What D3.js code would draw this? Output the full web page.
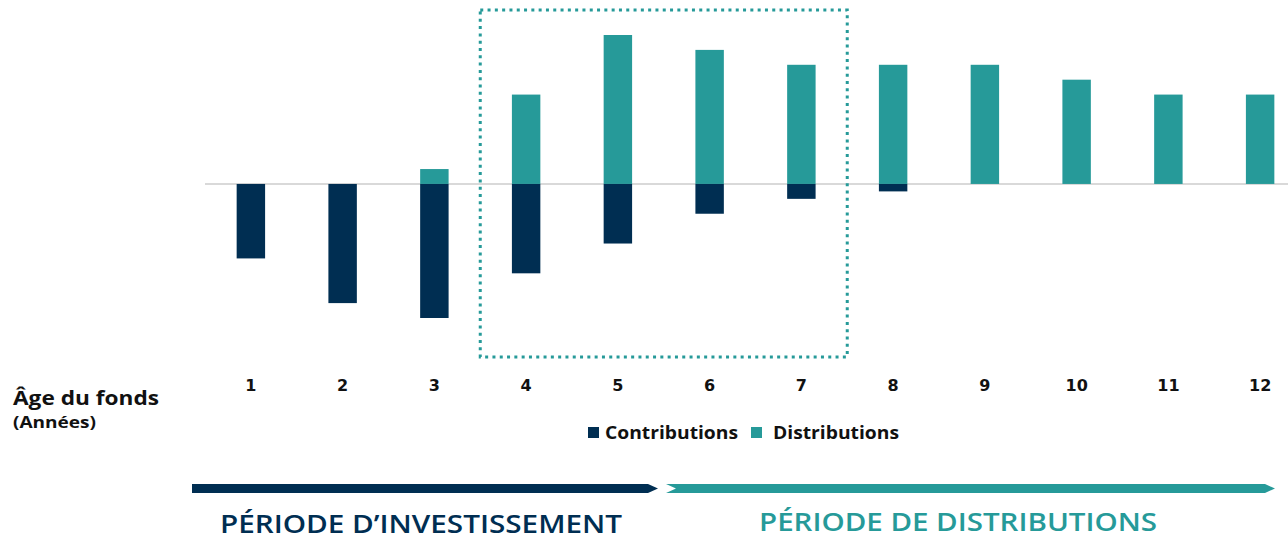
<!DOCTYPE html>
<html>
<head>
<meta charset="utf-8">
<script src="https://cdn.jsdelivr.net/npm/d3@7"></script>
<style>
  body { margin: 0; background: #fff; }
  svg { display: block; font-family: "Open Sans", sans-serif; }
</style>
</head>
<body>
<script>
// Data: fund age (years), contributions (negative) and distributions
var years = ["1", "2", "3", "4", "5", "6", "7", "8", "9", "10", "11", "12"];
var contributions = [-5, -8, -9, -6, -4, -2, -1, -0.5, 0, 0, 0, 0];
var distributions = [0, 0, 1, 6, 10, 9, 8, 8, 8, 7, 6, 6];
var highlightYears = ["4", "7"];

var navy = "#002e52";
var teal = "#269a99";

var svgWidth = 1288;
var svgHeight = 535;

var svg = d3.select("body")
  .append("svg")
  .attr("width", svgWidth)
  .attr("height", svgHeight);

// scales
var xScale = d3.scaleBand()
  .domain(years)
  .range([205, 1306])
  .paddingInner(0.69)
  .paddingOuter(0.345);

var yScale = d3.scaleLinear()
  .domain([-9, 10])
  .range([318, 35]);

// zero line
svg.append("line")
  .attr("x1", xScale.range()[0])
  .attr("x2", svgWidth)
  .attr("y1", yScale(0))
  .attr("y2", yScale(0))
  .attr("stroke", "#d9d9d9")
  .attr("stroke-width", 2);

// distribution bars
svg.selectAll(".dist")
  .data(years)
  .enter()
  .append("rect")
  .attr("class", "dist")
  .attr("x", d => xScale(d))
  .attr("width", xScale.bandwidth())
  .attr("y", (d, i) => yScale(distributions[i]))
  .attr("height", (d, i) => yScale(0) - yScale(distributions[i]))
  .attr("fill", teal);

// contribution bars
svg.selectAll(".contrib")
  .data(years)
  .enter()
  .append("rect")
  .attr("class", "contrib")
  .attr("x", d => xScale(d))
  .attr("width", xScale.bandwidth())
  .attr("y", yScale(0))
  .attr("height", (d, i) => yScale(contributions[i]) - yScale(0))
  .attr("fill", navy);

// dotted highlight box around years 4-7
var step = xScale.step();
var boxLeft = xScale(highlightYears[0]) + xScale.bandwidth() / 2 - step / 2;
var boxRight = xScale(highlightYears[1]) + xScale.bandwidth() / 2 + step / 2;
svg.append("rect")
  .attr("x", boxLeft)
  .attr("y", 10)
  .attr("width", boxRight - boxLeft)
  .attr("height", 347)
  .attr("fill", "none")
  .attr("stroke", teal)
  .attr("stroke-width", 3)
  .attr("stroke-dasharray", "3,4.3");

// x axis (no line, just labels)
var xAxis = svg.append("g")
  .attr("transform", "translate(0, 380)")
  .call(d3.axisBottom(xScale).tickSize(0).tickPadding(0));
xAxis.select(".domain").remove();
xAxis.selectAll("text")
  .attr("dy", "0.71em")
  .style("font-family", "'DejaVu Sans', sans-serif")
  .style("font-size", "16px")
  .style("font-weight", "700")
  .attr("fill", "#111");

svg.append("text")
  .attr("x", 13)
  .attr("y", 405)
  .attr("textLength", 146)
  .attr("lengthAdjust", "spacingAndGlyphs")
  .style("font-size", "20px")
  .style("font-weight", "700")
  .attr("fill", "#111")
  .text("Âge du fonds");

svg.append("text")
  .attr("x", 13)
  .attr("y", 428)
  .attr("textLength", 83)
  .attr("lengthAdjust", "spacingAndGlyphs")
  .style("font-size", "16px")
  .style("font-weight", "700")
  .attr("fill", "#111")
  .text("(Années)");

// legend
var legend = [
  { label: "Contributions", color: navy, x: 588, tx: 17, w: 133 },
  { label: "Distributions", color: teal, x: 751, tx: 22, w: 126 }
];
var lg = svg.selectAll(".legend")
  .data(legend)
  .enter()
  .append("g")
  .attr("transform", d => `translate(${d.x}, 427)`);
lg.append("rect")
  .attr("width", 11)
  .attr("height", 11)
  .attr("fill", d => d.color);
lg.append("text")
  .attr("x", d => d.tx)
  .attr("y", 12)
  .attr("textLength", d => d.w)
  .attr("lengthAdjust", "spacingAndGlyphs")
  .style("font-size", "18px")
  .style("font-weight", "700")
  .attr("fill", "#111")
  .text(d => d.label);

// period arrows
var ay = 484, ah = 9;
svg.append("path")
  .attr("d", `M192,${ay} L648,${ay} L658,${ay + ah / 2} L648,${ay + ah} L192,${ay + ah} Z`)
  .attr("fill", navy);
svg.append("path")
  .attr("d", `M666,${ay} L1265,${ay} L1275,${ay + ah / 2} L1265,${ay + ah} L666,${ay + ah} L676,${ay + ah / 2} Z`)
  .attr("fill", teal);

svg.append("text")
  .attr("x", 220)
  .attr("y", 533)
  .attr("textLength", 402)
  .attr("lengthAdjust", "spacingAndGlyphs")
  .style("font-size", "25px")
  .style("font-weight", "600")
  .attr("fill", navy)
  .text("PÉRIODE D’INVESTISSEMENT");

svg.append("text")
  .attr("x", 759)
  .attr("y", 531)
  .attr("textLength", 398)
  .attr("lengthAdjust", "spacingAndGlyphs")
  .style("font-size", "25px")
  .style("font-weight", "600")
  .attr("fill", teal)
  .text("PÉRIODE DE DISTRIBUTIONS");
</script>
</body>
</html>
